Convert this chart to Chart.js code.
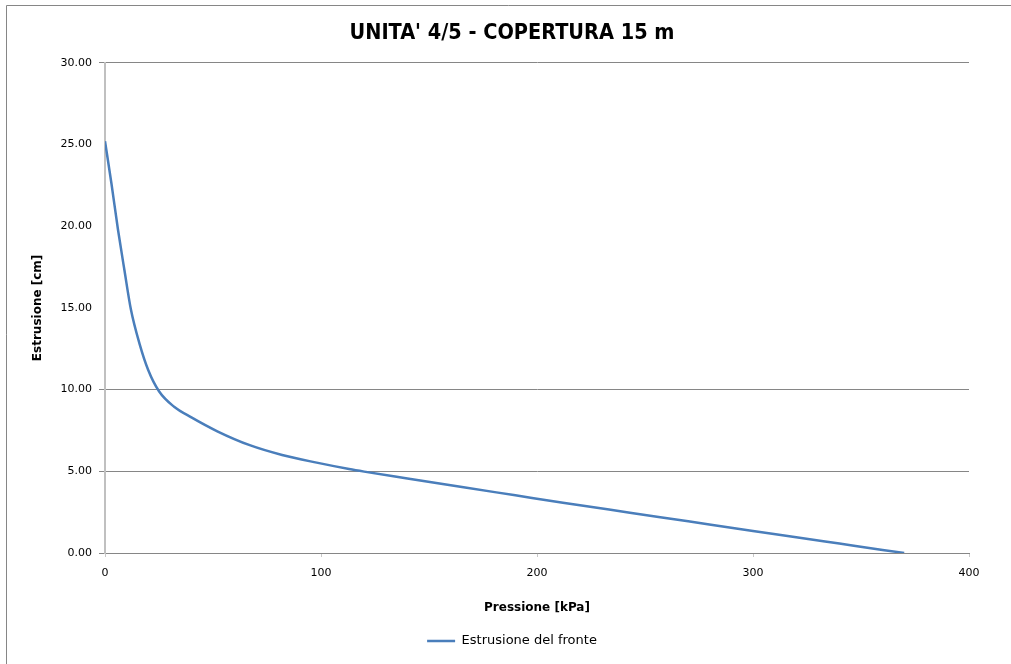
<!DOCTYPE html>
<html>
<head>
<meta charset="utf-8">
<script src="https://cdn.jsdelivr.net/npm/chart.js@4/dist/chart.umd.min.js"></script>
<style>
  html, body { margin: 0; padding: 0; background: #ffffff; }
  #wrap { position: relative; width: 1011px; height: 664px; }
</style>
</head>
<body>
<div id="wrap"><canvas id="c" width="1011" height="664"></canvas></div>
<script>
// ---- data ----
const chartTitle = "UNITA' 4/5 - COPERTURA 15 m";
const seriesName = "Estrusione del fronte";
const xTitle = "Pressione [kPa]";
const yTitle = "Estrusione [cm]";
const pressione = [0, 3, 6, 9, 12, 16, 20, 25, 32, 40, 52, 67, 82, 98, 113, 120, 140, 166, 190, 212, 243, 270, 300, 320, 340, 360, 370];
const estrusione = [25.2, 22.6, 19.8, 17.3, 14.9, 12.8, 11.2, 9.9, 8.95, 8.3, 7.45, 6.6, 6.0, 5.53, 5.14, 4.98, 4.56, 4.02, 3.53, 3.08, 2.47, 1.94, 1.35, 0.97, 0.58, 0.19, 0];
const xTicks = [0, 100, 200, 300, 400];
const yTicks = [0, 5, 10, 15, 20, 25, 30];
const hiddenGrid = [15, 20, 25];

const points = pressione.map((p, i) => ({ x: p, y: estrusione[i] }));

const borderPlugin = {
  id: 'outerBorder',
  beforeDraw(chart) {
    const ctx = chart.ctx;
    ctx.save();
    ctx.fillStyle = '#ffffff';
    ctx.fillRect(0, 0, chart.width, chart.height);
    ctx.strokeStyle = '#868686';
    ctx.lineWidth = 1;
    ctx.beginPath();
    ctx.moveTo(6.5, chart.height);
    ctx.lineTo(6.5, 5.5);
    ctx.lineTo(chart.width, 5.5);
    ctx.stroke();
    ctx.restore();
  }
};

const tickFont = { family: "'DejaVu Sans', sans-serif", size: 11 };
const titleFontAxis = { family: "'DejaVu Sans', sans-serif", size: 12, weight: 'bold' };

new Chart(document.getElementById('c'), {
  type: 'line',
  data: {
    datasets: [{
      label: seriesName,
      data: points,
      borderColor: '#4a7ebb',
      backgroundColor: '#4a7ebb',
      borderWidth: 2.5,
      pointRadius: 0,
      pointStyle: 'line',
      cubicInterpolationMode: 'monotone',
      fill: false
    }]
  },
  options: {
    responsive: false,
    animation: false,
    devicePixelRatio: 1,
    layout: { padding: { left: 13, right: 0, top: 0, bottom: 6.5 } },
    plugins: {
      title: {
        display: true,
        text: chartTitle,
        color: '#000000',
        font: { family: "'DejaVu Sans Condensed', sans-serif", size: 21.5, weight: 'bold' },
        padding: { top: 20.5, bottom: 16.5 }
      },
      legend: {
        display: true,
        position: 'bottom',
        labels: {
          color: '#000000',
          font: { family: "'DejaVu Sans', sans-serif", size: 13 },
          usePointStyle: true,
          pointStyleWidth: 28,
          padding: 10
        }
      },
      tooltip: { enabled: false }
    },
    scales: {
      x: {
        type: 'linear',
        min: xTicks[0],
        max: xTicks[xTicks.length - 1],
        afterBuildTicks(scale) { scale.ticks = xTicks.map(v => ({ value: v })); },
        afterFit(scale) { scale.height = 71.5; },
        grid: { drawOnChartArea: false, drawTicks: true, tickLength: 4, color: '#c8c8c8' },
        border: { display: true, color: '#868686', width: 1 },
        ticks: { color: '#000000', font: tickFont, padding: 9.5, maxRotation: 0, callback: v => String(v) },
        title: { display: true, text: xTitle, color: '#000000', font: titleFontAxis, padding: { top: 0, bottom: 9.3 } }
      },
      y: {
        type: 'linear',
        position: 'left',
        min: yTicks[0],
        max: yTicks[yTicks.length - 1],
        afterBuildTicks(scale) { scale.ticks = yTicks.map(v => ({ value: v })); },
        afterFit(scale) { scale.width = 92; },
        grid: {
          color: ctx => (ctx.tick && hiddenGrid.includes(ctx.tick.value)) ? 'rgba(0,0,0,0)' : '#868686',
          tickLength: 6,
          lineWidth: 1
        },
        border: { display: true, color: '#c0c0c0', width: 2 },
        ticks: { color: '#000000', font: tickFont, padding: 7, callback: v => Number(v).toFixed(2) },
        title: { display: true, text: yTitle, color: '#000000', font: titleFontAxis, padding: { top: 17.8, bottom: 0 } }
      },
      yRightSpace: {
        type: 'linear',
        position: 'right',
        min: 0,
        max: 1,
        afterFit(scale) { scale.width = 42; },
        grid: { display: false, drawOnChartArea: false },
        border: { display: false },
        ticks: { display: false },
        title: { display: false }
      }
    }
  },
  plugins: [borderPlugin]
});
</script>
</body>
</html>
